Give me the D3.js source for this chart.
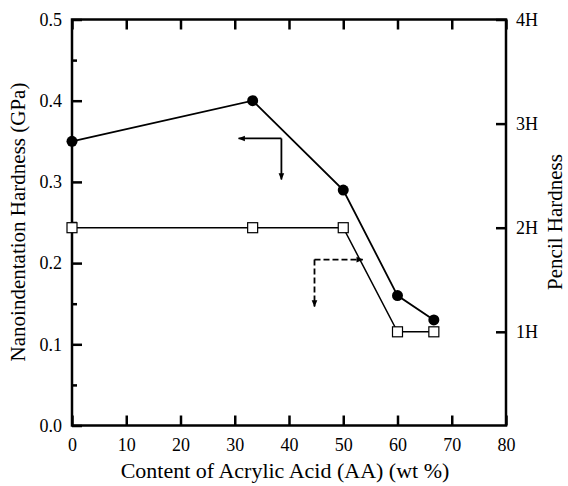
<!DOCTYPE html>
<html>
<head>
<meta charset="utf-8">
<script src="https://cdn.jsdelivr.net/npm/d3@7"></script>
<style>
  body { margin: 0; background: #fff; }
  text { font-family: "Liberation Serif", "Times New Roman", serif; fill: #000; }
</style>
</head>
<body>
<svg width="568" height="486"></svg>
<script>
const width = 568;
const height = 486;
const margin = {top: 19.5, right: 62, bottom: 60.5, left: 72};

// data
const aaContent = [0, 33.3, 50, 60, 66.7];
const nanoHardness = [0.35, 0.40, 0.29, 0.16, 0.13];
const pencilHardness = [2, 2, 2, 1, 1];
const xTicks = [0, 10, 20, 30, 40, 50, 60, 70, 80];
const yTicks = [0.0, 0.1, 0.2, 0.3, 0.4, 0.5];
const yMinorTicks = [0.05, 0.15, 0.25, 0.35, 0.45];
const pencilTicks = [1, 2, 3, 4];
const pencilLabels = ["1H", "2H", "3H", "4H"];

const svg = d3.select("svg");

const xScale = d3.scaleLinear()
                .domain([0, 80])
                .range([margin.left, width - margin.right]);
const yScale = d3.scaleLinear()
                .domain([0, 0.5])
                .range([height - margin.bottom, margin.top]);
const y2Scale = d3.scaleLinear()
                .domain([0.1, 4])
                .range([height - margin.bottom, margin.top]);

// axes
const xBottom = d3.axisBottom(xScale).tickValues(xTicks).tickSize(-10).tickPadding(13)
                .tickFormat(d3.format("d"));
const xTop = d3.axisTop(xScale).tickValues(xTicks).tickSize(-10).tickFormat("");
const yLeft = d3.axisLeft(yScale).tickValues(yTicks).tickSize(-10).tickPadding(10)
                .tickFormat(d3.format(".1f"));
const yLeftMinor = d3.axisLeft(yScale).tickValues(yMinorTicks).tickSize(-5).tickFormat("");
const yRight = d3.axisRight(y2Scale).tickValues(pencilTicks).tickSize(-10).tickPadding(10)
                .tickFormat((d, i) => pencilLabels[i]);

function styleAxis(g) {
    g.attr("font-family", null);
    g.select(".domain").remove();
    g.selectAll(".tick line").attr("stroke", "#000").attr("stroke-width", 2.5);
    g.selectAll(".tick text").style("font-size", "18px").attr("fill", "#000");
}

svg.append("g").attr("transform", "translate(0," + (height - margin.bottom) + ")")
    .call(xBottom).call(styleAxis);
svg.append("g").attr("transform", "translate(0," + margin.top + ")")
    .call(xTop).call(styleAxis);
svg.append("g").attr("transform", "translate(" + margin.left + ",0)")
    .call(yLeft).call(styleAxis);
svg.append("g").attr("transform", "translate(" + margin.left + ",0)")
    .call(yLeftMinor).call(styleAxis);
svg.append("g").attr("transform", "translate(" + (width - margin.right) + ",0)")
    .call(yRight).call(styleAxis);

// frame
svg.append("rect")
    .attr("x", margin.left)
    .attr("y", margin.top)
    .attr("width", width - margin.left - margin.right)
    .attr("height", height - margin.top - margin.bottom)
    .attr("fill", "none")
    .attr("stroke", "#000")
    .attr("stroke-width", 2.5);

// series
const nanoData = aaContent.map((x, i) => ({x: x, y: nanoHardness[i]}));
const pencilData = aaContent.map((x, i) => ({x: x, y: pencilHardness[i]}));

svg.append("path")
    .datum(nanoData)
    .attr("fill", "none")
    .attr("stroke", "#000")
    .attr("stroke-width", 1.8)
    .attr("d", d3.line().x(d => xScale(d.x)).y(d => yScale(d.y)));

svg.append("path")
    .datum(pencilData)
    .attr("fill", "none")
    .attr("stroke", "#000")
    .attr("stroke-width", 1.5)
    .attr("d", d3.line().x(d => xScale(d.x)).y(d => y2Scale(d.y)));

svg.selectAll("circle.nano")
    .data(nanoData)
    .enter()
    .append("circle")
        .attr("class", "nano")
        .attr("cx", d => xScale(d.x))
        .attr("cy", d => yScale(d.y))
        .attr("r", 5.5)
        .attr("fill", "#000");

svg.selectAll("rect.pencil")
    .data(pencilData)
    .enter()
    .append("rect")
        .attr("class", "pencil")
        .attr("x", d => xScale(d.x) - 5)
        .attr("y", d => y2Scale(d.y) - 5)
        .attr("width", 10)
        .attr("height", 10)
        .attr("fill", "#fff")
        .attr("stroke", "#000")
        .attr("stroke-width", 1.2);

// arrows
const defs = svg.append("defs");
defs.append("marker")
    .attr("id", "head")
    .attr("viewBox", "0 0 10 10")
    .attr("refX", 9).attr("refY", 5)
    .attr("markerWidth", 7).attr("markerHeight", 7)
    .attr("markerUnits", "userSpaceOnUse")
    .attr("orient", "auto")
  .append("path")
    .attr("d", "M0,1 L10,5 L0,9 z")
    .attr("fill", "#000");

const solidArrow = [[30.7, 0.3535], [38.6, 0.3535], [38.6, 0.303]];
const dashedArrow = [[53.6, 0.2043], [44.7, 0.2043], [44.7, 0.1464]];

function drawArrow(pts, dashed) {
    const [a, corner, b] = pts;
    [a, b].forEach(end => {
        svg.append("line")
            .attr("x1", xScale(corner[0])).attr("y1", yScale(corner[1]))
            .attr("x2", xScale(end[0])).attr("y2", yScale(end[1]))
            .attr("stroke", "#000")
            .attr("stroke-width", 1.8)
            .attr("stroke-dasharray", dashed ? "6,3" : null)
            .attr("marker-end", "url(#head)");
    });
}
drawArrow(solidArrow, false);
drawArrow(dashedArrow, true);

// axis titles
svg.append("text")
    .attr("x", 285)
    .attr("y", 478)
    .style("text-anchor", "middle")
    .style("font-size", "22px")
    .text("Content of Acrylic Acid (AA) (wt %)");

svg.append("text")
    .attr("transform", "rotate(-90)")
    .attr("x", -222)
    .attr("y", 25)
    .style("text-anchor", "middle")
    .style("font-size", "21px")
    .text("Nanoindentation Hardness (GPa)");

svg.append("text")
    .attr("transform", "rotate(-90)")
    .attr("x", -222)
    .attr("y", 562)
    .style("text-anchor", "middle")
    .style("font-size", "21px")
    .text("Pencil Hardness");
</script>
</body>
</html>
